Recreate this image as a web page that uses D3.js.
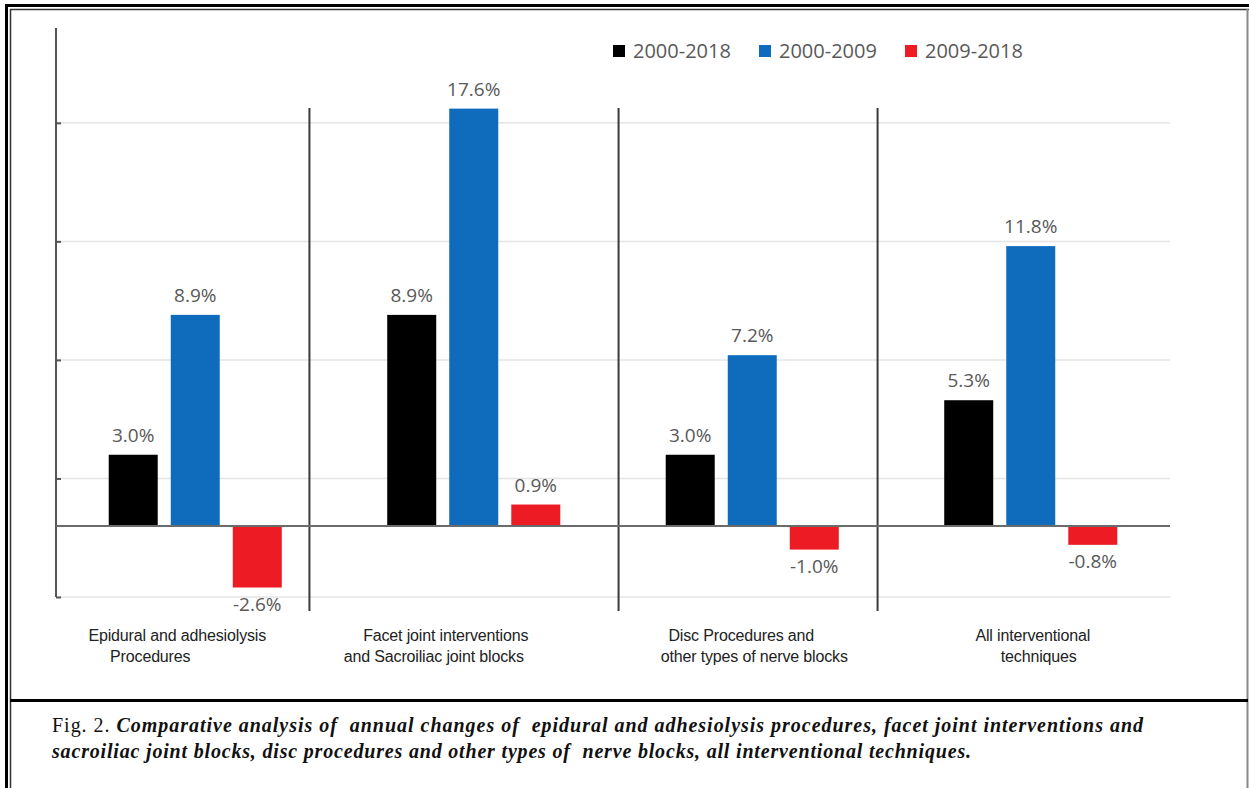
<!DOCTYPE html>
<html>
<head>
<meta charset="utf-8">
<script src="https://cdn.jsdelivr.net/npm/d3@7"></script>
<style>
  body { margin: 0; background: #fff; }
  svg { display: block; }
</style>
</head>
<body>
<svg id="chart" width="1249" height="788"></svg>
<script>
// ---- data ----
const categories = [
  "Epidural and adhesiolysis Procedures",
  "Facet joint interventions and Sacroiliac joint blocks",
  "Disc Procedures and other types of nerve blocks",
  "All interventional techniques"
];
const categoryLines = [
  ["Epidural and adhesiolysis", "Procedures"],
  ["Facet joint interventions", "and Sacroiliac joint blocks"],
  ["Disc Procedures and", "other types of nerve blocks"],
  ["All interventional", "techniques"]
];
const seriesNames = ["2000-2018", "2000-2009", "2009-2018"];
const values2000to2018 = [3.0, 8.9, 3.0, 5.3];
const values2000to2009 = [8.9, 17.6, 7.2, 11.8];
const values2009to2018 = [-2.6, 0.9, -1.0, -0.8];
const yTicks = [-3, 2, 7, 12, 17];
const yDomain = [-3, 21];
const captionPrefix = "Fig. 2. ";
const captionLine1 = "Comparative analysis of  annual changes of  epidural and adhesiolysis procedures, facet joint interventions and";
const captionLine2 = "sacroiliac joint blocks, disc procedures and other types of  nerve blocks, all interventional techniques.";

// ---- styling / layout ----
const seriesColors = ["#000000", "#0f6cbd", "#ed1c24"];
const seriesValues = [values2000to2018, values2000to2009, values2009to2018];
const separatorsAt = [0.91, 2.02, 2.95];      // group dividers, in band units
const labelLineShift = [[-18, -45], [-28, -40], [-11, 2], [2, 8]];

const fmtPct = v => (v < 0 ? "-" : "") + Math.abs(v).toFixed(1) + "%";

const svg = d3.select("#chart");
const W = 1249, H = 788;

// ---- page frame ----
const frame = svg.append("g");
frame.append("line").attr("x1", 5).attr("x2", W).attr("y1", 5.5).attr("y2", 5.5)
  .attr("stroke", "#000").attr("stroke-width", 3);
frame.append("line").attr("x1", 6.5).attr("x2", 6.5).attr("y1", 4).attr("y2", H)
  .attr("stroke", "#000").attr("stroke-width", 3);
frame.append("line").attr("x1", 10).attr("x2", W).attr("y1", 9.5).attr("y2", 9.5)
  .attr("stroke", "#333").attr("stroke-width", 1.5);
frame.append("line").attr("x1", 10.5).attr("x2", 10.5).attr("y1", 9).attr("y2", H)
  .attr("stroke", "#333").attr("stroke-width", 1.5);
frame.append("line").attr("x1", 1247.5).attr("x2", 1247.5).attr("y1", 9).attr("y2", H)
  .attr("stroke", "#888").attr("stroke-width", 2);
frame.append("line").attr("x1", 10).attr("x2", 1248).attr("y1", 700.5).attr("y2", 700.5)
  .attr("stroke", "#000").attr("stroke-width", 3);

// ---- scales ----
const x = d3.scaleBand().domain(categories).range([56, 1170]).paddingInner(0).paddingOuter(0);
const xs = d3.scaleBand().domain(seriesNames).range([0, x.bandwidth()])
  .paddingInner(0.21).paddingOuter(0.85);
const y = d3.scaleLinear().domain(yDomain).range([597, 28]);
const bandPos = d3.scaleLinear().domain([0, categories.length]).range(x.range());

// ---- gridlines ----
svg.append("g").selectAll("line").data(yTicks).join("line")
  .attr("x1", x.range()[0]).attr("x2", x.range()[1])
  .attr("y1", d => y(d)).attr("y2", d => y(d))
  .attr("stroke", "#e4e4e4").attr("stroke-width", 1.5);

// ---- group dividers ----
svg.append("g").selectAll("line").data(separatorsAt).join("line")
  .attr("x1", d => bandPos(d)).attr("x2", d => bandPos(d))
  .attr("y1", 108).attr("y2", 611)
  .attr("stroke", "#3a3a3a").attr("stroke-width", 2);

// ---- y axis (no labels) ----
const yAxis = d3.axisRight(y).tickValues(yTicks).tickSize(5).tickFormat("");
const yg = svg.append("g").attr("transform", `translate(${x.range()[0]},0)`).call(yAxis);
yg.select(".domain").attr("stroke", "#555").attr("stroke-width", 2)
  .attr("d", `M0,${y(yDomain[1])}V${y(yDomain[0])}`);
yg.selectAll(".tick line").attr("stroke", "#555").attr("stroke-width", 2);

// ---- bars ----
const bars = svg.append("g");
seriesNames.forEach((s, si) => {
  const vals = seriesValues[si];
  bars.selectAll(null).data(categories).join("rect")
    .attr("x", c => x(c) + xs(s))
    .attr("width", xs.bandwidth())
    .attr("y", (c, i) => y(Math.max(0, vals[i])))
    .attr("height", (c, i) => Math.abs(y(vals[i]) - y(0)))
    .attr("fill", seriesColors[si]);
  bars.selectAll(null).data(categories).join("text")
    .attr("x", c => x(c) + xs(s) + xs.bandwidth() / 2)
    .attr("y", (c, i) => vals[i] >= 0 ? y(vals[i]) - 13 : y(vals[i]) + 23)
    .attr("text-anchor", "middle")
    .attr("font-family", "'Open Sans', sans-serif")
    .attr("font-size", 19)
    .attr("fill", "#595959")
    .text((c, i) => fmtPct(vals[i]));
});

// ---- zero line ----
svg.append("line")
  .attr("x1", x.range()[0]).attr("x2", x.range()[1])
  .attr("y1", y(0)).attr("y2", y(0))
  .attr("stroke", "#6b6b6b").attr("stroke-width", 2);

// ---- category labels ----
const catG = svg.append("g");
categories.forEach((c, i) => {
  categoryLines[i].forEach((line, li) => {
    catG.append("text")
      .attr("x", x(c) + x.bandwidth() / 2 + labelLineShift[i][li])
      .attr("y", 641 + li * 21)
      .attr("text-anchor", "middle")
      .attr("font-family", "'Liberation Sans', Arial, sans-serif")
      .attr("font-size", 16)
      .attr("letter-spacing", -0.15)
      .attr("fill", "#222")
      .text(line);
  });
});

// ---- legend ----
const legend = svg.append("g").attr("transform", "translate(613,45)");
const legendX = [0, 146, 292];
seriesNames.forEach((s, i) => {
  const g = legend.append("g").attr("transform", `translate(${legendX[i]},0)`);
  g.append("rect").attr("width", 12).attr("height", 12).attr("fill", seriesColors[i]);
  g.append("text").attr("x", 20).attr("y", 13)
    .attr("font-family", "'Open Sans', sans-serif").attr("font-size", 20)
    .attr("fill", "#595959").text(s);
});

// ---- caption ----
const cap = svg.append("g").attr("font-family", "'Liberation Serif', 'Times New Roman', serif")
  .attr("font-size", 20).attr("fill", "#111");
const t1 = cap.append("text").attr("x", 52).attr("y", 732)
  .attr("xml:space", "preserve")
  .attr("textLength", 1091).attr("lengthAdjust", "spacing");
t1.append("tspan").text(captionPrefix);
t1.append("tspan").attr("font-style", "italic").attr("font-weight", "bold").text(captionLine1);
cap.append("text").attr("x", 52).attr("y", 758)
  .attr("xml:space", "preserve")
  .attr("textLength", 919).attr("lengthAdjust", "spacing")
  .attr("font-style", "italic").attr("font-weight", "bold").text(captionLine2);
</script>
</body>
</html>
